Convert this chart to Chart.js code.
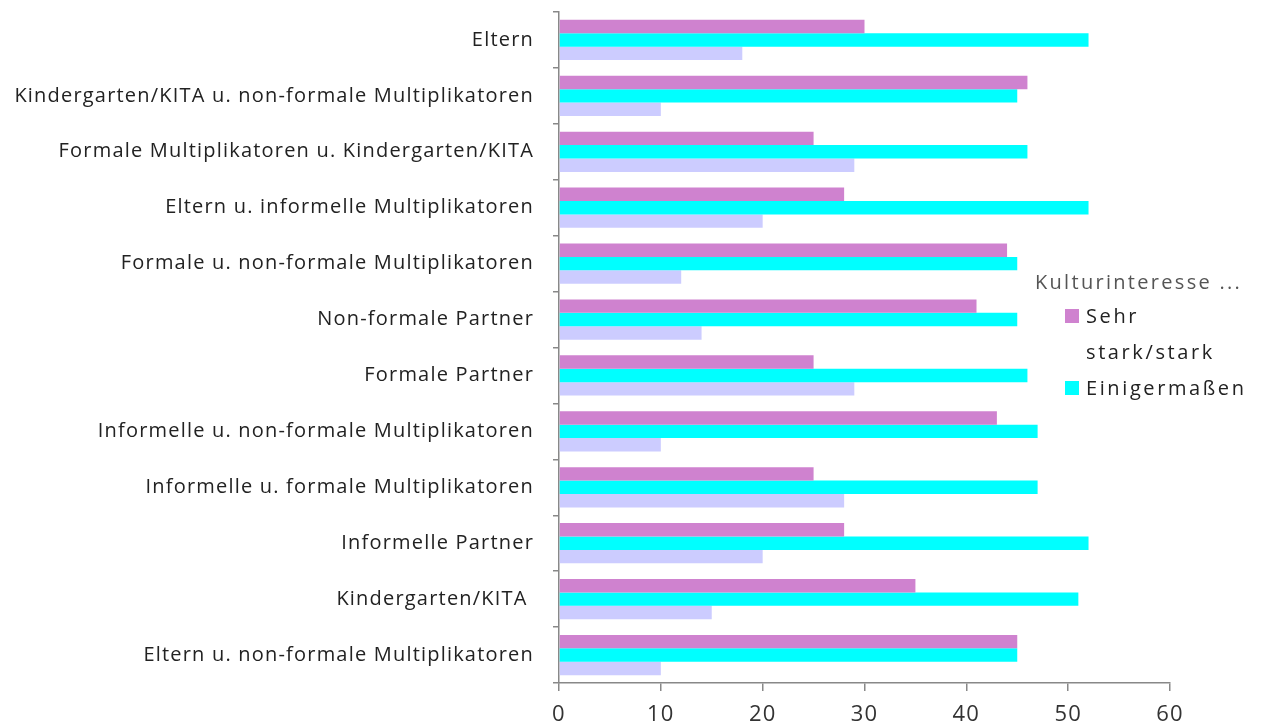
<!DOCTYPE html>
<html>
<head>
<meta charset="utf-8">
<script src="https://cdn.jsdelivr.net/npm/chart.js@4"></script>
<style>
  html, body { margin: 0; padding: 0; background: #fff; }
  #wrap { position: relative; width: 1261px; height: 726px; }
  #legend { position: absolute; left: 1035px; top: 266px; font-family: "Open Sans", sans-serif; font-size: 20px; color: #222; line-height: 36px; letter-spacing: 2.6px; }
  #legend .title { color: #555; line-height: 32px; letter-spacing: 2.3px; }
  #legend .item { display: flex; align-items: flex-start; padding-left: 30px; }
  #legend .box { width: 14px; height: 14px; margin: 11px 7px 0 0; flex: none; }
</style>
</head>
<body>
<div id="wrap">
  <canvas id="chart" width="1261" height="726"></canvas>
  <div id="legend"></div>
</div>
<script>
// Kategorien (von oben nach unten)
const categories = [
  'Eltern',
  'Kindergarten/KITA u. non-formale Multiplikatoren',
  'Formale Multiplikatoren u. Kindergarten/KITA',
  'Eltern u. informelle Multiplikatoren',
  'Formale u. non-formale Multiplikatoren',
  'Non-formale Partner',
  'Formale Partner',
  'Informelle u. non-formale Multiplikatoren',
  'Informelle u. formale Multiplikatoren',
  'Informelle Partner',
  'Kindergarten/KITA ',
  'Eltern u. non-formale Multiplikatoren'
];

// Werte in %
const sehrStark     = [30, 46, 25, 28, 44, 41, 25, 43, 25, 28, 35, 45];
const einigermassen = [52, 45, 46, 52, 45, 45, 46, 47, 47, 52, 51, 45];
const wenig         = [18, 10, 29, 20, 12, 14, 29, 10, 28, 20, 15, 10];

const xTicks = [0, 10, 20, 30, 40, 50, 60];
const legendTitle = 'Kulturinteresse ...';

const colors = ['#cf82cf', '#00ffff', '#ccccff'];

// etwas breitere Schrift wie im Original
const spacing = {
  id: 'spacing',
  beforeUpdate(chart) { chart.ctx.letterSpacing = '1.2px'; },
  beforeDraw(chart) { chart.ctx.letterSpacing = '1.2px'; }
};

const ctx = document.getElementById('chart').getContext('2d');
new Chart(ctx, {
  type: 'bar',
  data: {
    labels: categories,
    datasets: [
      { label: 'Sehr stark/stark', data: sehrStark, backgroundColor: colors[0] },
      { label: 'Einigermaßen', data: einigermassen, backgroundColor: colors[1] },
      { label: 'Wenig/gar nicht', data: wenig, backgroundColor: colors[2] }
    ]
  },
  plugins: [spacing],
  options: {
    indexAxis: 'y',
    responsive: false,
    animation: false,
    categoryPercentage: 0.72,
    barPercentage: 1.0,
    layout: { padding: { top: 12, right: 91, left: 0, bottom: 0 } },
    plugins: { legend: { display: false }, tooltip: { enabled: false } },
    scales: {
      x: {
        min: 0, max: 60,
        afterBuildTicks: s => { s.ticks = xTicks.map(v => ({ value: v })); },
        afterFit: s => { s.height = 43; },
        border: { color: '#888', width: 1.5 },
        grid: { drawOnChartArea: false, tickLength: 8, color: '#888', lineWidth: 1.5 },
        ticks: { color: '#333', padding: 11, font: { family: 'Open Sans', size: 22 } }
      },
      y: {
        afterFit: s => { s.width = 559; s.paddingTop = 0; s.paddingBottom = 0; },
        border: { color: '#888', width: 1.5 },
        grid: { offset: true, drawOnChartArea: false, tickLength: 6, color: '#888', lineWidth: 1.5 },
        ticks: { color: '#222', padding: 19, font: { family: 'Open Sans', size: 20 } }
      }
    }
  }
});

// Legende (nur zwei Einträge wie im Original)
const legend = document.getElementById('legend');
legend.innerHTML = '<div class="title">' + legendTitle + '</div>' +
  '<div class="item"><span class="box" style="background:' + colors[0] + '"></span><span>Sehr<br>stark/stark</span></div>' +
  '<div class="item"><span class="box" style="background:' + colors[1] + '"></span><span>Einigermaßen</span></div>';
</script>
</body>
</html>
